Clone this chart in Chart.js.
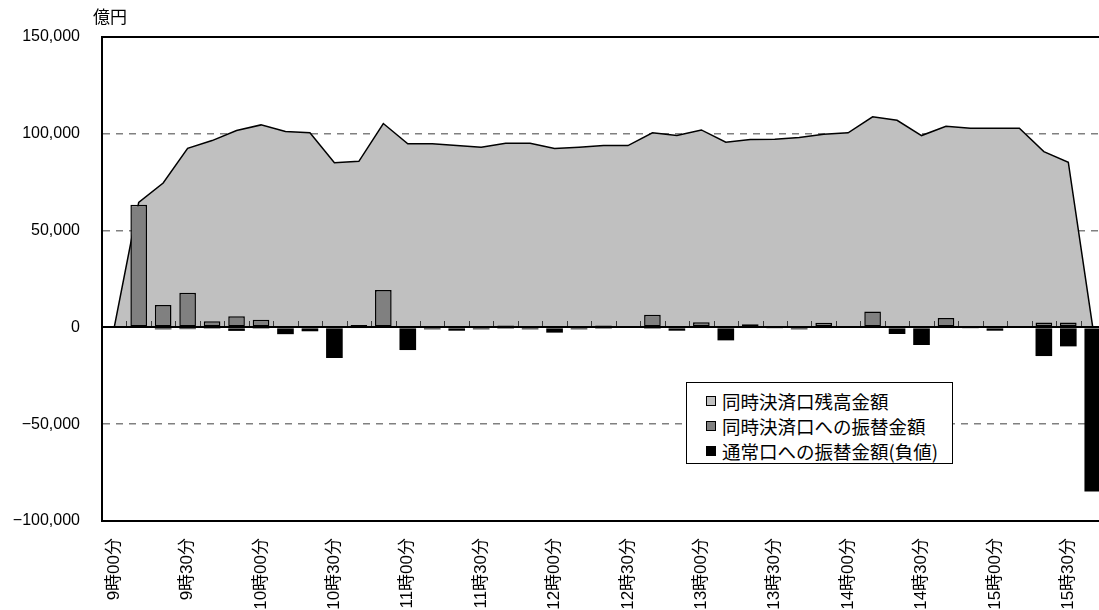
<!DOCTYPE html>
<html lang="ja">
<head>
<meta charset="utf-8">
<script src="https://cdn.jsdelivr.net/npm/chart.js@4.4.1/dist/chart.umd.min.js"></script>
<style>
  html, body { margin: 0; padding: 0; background: #fff; overflow: hidden; width: 1099px; height: 610px; }
  #wrap { position: absolute; left: 0; top: 0; width: 1105px; height: 610px; }
  #unit { position: absolute; left: 93px; top: 7px; font-family: 'Noto Sans CJK JP', sans-serif; font-size: 17px; line-height: 17px; color: #000; }
  #legend { position: absolute; left: 686px; top: 382px; width: 267px; height: 82px; box-sizing: border-box; border: 1px solid #000; background: #fff; }
  .item { position: absolute; left: 19px; height: 24px; display: flex; align-items: center; white-space: nowrap;
          font-family: 'Noto Sans CJK JP', sans-serif; font-size: 18.5px; line-height: 24px; color: #000; }
  .swatch { width: 8px; height: 8px; border: 1px solid #000; margin-right: 6px; flex: none; }
</style>
</head>
<body>
<div id="wrap">
  <canvas id="c" width="1105" height="610"></canvas>
  <div id="unit">億円</div>
  <div id="legend"></div>
</div>
<script>
// 10-minute time slots of the settlement day
const timeLabels = [
  '9時00分','9時10分','9時20分','9時30分','9時40分','9時50分',
  '10時00分','10時10分','10時20分','10時30分','10時40分','10時50分',
  '11時00分','11時10分','11時20分','11時30分','11時40分','11時50分',
  '12時00分','12時10分','12時20分','12時30分','12時40分','12時50分',
  '13時00分','13時10分','13時20分','13時30分','13時40分','13時50分',
  '14時00分','14時10分','14時20分','14時30分','14時40分','14時50分',
  '15時00分','15時10分','15時20分','15時30分','15時40分'
];

// 同時決済口残高金額 (億円)
const balance = [
  0, 64500, 74600, 92500, 96500, 101700,
  104600, 101200, 100500, 85100, 85800, 105300,
  94800, 94800, 93900, 93100, 95100, 95100,
  92400, 93100, 93900, 93900, 100500, 99100,
  102000, 95700, 97000, 97200, 98100, 99800,
  100500, 108800, 107000, 99100, 103900, 102900,
  102900, 102900, 90800, 85300, 0
];

// 同時決済口への振替金額 (億円)
const transferIn = [
  0, 63400, 11600, 17900, 3200, 5800,
  4000, 0, 0, 0, 1200, 19300,
  0, 0, 0, 0, 1000, 0,
  0, 0, 1000, 0, 6500, 0,
  2600, 0, 1600, 0, 600, 2400,
  0, 8200, 0, 0, 4800, 0,
  0, 0, 2500, 2500, 0
];

// 通常口への振替金額 (負値, 億円)
const transferOut = [
  0, 0, -1000, -900, -700, -1800,
  -700, -3500, -2000, -15800, -500, 0,
  -11700, -1000, -1700, -1000, -300, -1000,
  -2700, -1000, -300, 0, -300, -1700,
  -500, -6700, -500, -600, -1000, -500,
  0, -500, -3400, -9100, -500, -600,
  -1700, 0, -14800, -9800, -84800
];

const seriesNames = ['同時決済口残高金額', '同時決済口への振替金額', '通常口への振替金額(負値)'];
const seriesColors = ['#c0c0c0', '#808080', '#000000'];

// value axis range
const yMin = -100000, yMax = 150000, yStep = 50000;

const fmtYen = v => (v < 0 ? '\u2212' : '') + Math.abs(v).toLocaleString('en-US');
const isFrame = v => v === yMin || v === yMax || v === 0;

// zero line with short category ticks pointing upward
const zeroAxis = {
  id: 'zeroAxis',
  afterDatasetsDraw(chart) {
    const { ctx, chartArea, scales: { x, y } } = chart;
    const y0 = Math.round(y.getPixelForValue(0));
    ctx.save();
    ctx.strokeStyle = '#3a3a3a';
    ctx.lineWidth = 1;
    ctx.beginPath();
    for (let i = 0; i < timeLabels.length - 1; i++) {
      const xm = Math.round((x.getPixelForValue(i) + x.getPixelForValue(i + 1)) / 2) + 0.5;
      ctx.moveTo(xm, y0);
      ctx.lineTo(xm, y0 - 6);
    }
    ctx.stroke();
    ctx.strokeStyle = '#000';
    ctx.lineWidth = 2;
    ctx.beginPath();
    ctx.moveTo(chartArea.left, y0);
    ctx.lineTo(chartArea.right, y0);
    ctx.stroke();
    ctx.restore();
  }
};

const tickFont = "'Liberation Sans', 'Noto Sans CJK JP', sans-serif";

new Chart(document.getElementById('c'), {
  type: 'bar',
  data: {
    labels: timeLabels,
    datasets: [
      {
        type: 'line', label: seriesNames[0], data: balance,
        fill: 'origin', backgroundColor: seriesColors[0],
        borderColor: '#000', borderWidth: 1.5, pointRadius: 0, tension: 0, order: 3
      },
      {
        type: 'bar', label: seriesNames[1], data: transferIn,
        backgroundColor: seriesColors[1], borderColor: '#000', borderWidth: 1.5, borderSkipped: false,
        grouped: false, categoryPercentage: 1, barPercentage: 0.68, order: 2
      },
      {
        type: 'bar', label: seriesNames[2], data: transferOut,
        backgroundColor: seriesColors[2], borderWidth: 0,
        grouped: false, categoryPercentage: 1, barPercentage: 0.68, order: 1
      }
    ]
  },
  options: {
    responsive: false,
    animation: false,
    devicePixelRatio: 1,
    layout: { padding: { top: 37, left: 0, right: 0, bottom: 0 } },
    plugins: { legend: { display: false }, tooltip: { enabled: false } },
    scales: {
      x: {
        offset: true,
        grid: { display: false, drawTicks: false },
        border: { display: true, color: '#000', width: 2 },
        ticks: {
          autoSkip: false, maxRotation: 90, minRotation: 90, padding: 17, color: '#000',
          font: { family: tickFont, size: 17 },
          callback: (v, i) => (i % 3 === 0 ? timeLabels[i] : '')
        },
        afterFit: s => { s.height = 89; s.paddingLeft = 0; s.paddingRight = 0; }
      },
      y: {
        min: yMin, max: yMax,
        ticks: { stepSize: yStep, padding: 22, color: '#000', font: { family: tickFont, size: 16 }, callback: v => fmtYen(v) },
        grid: {
          drawTicks: false,
          color: c => (c.tick && isFrame(c.tick.value)) ? '#000' : '#808080',
          lineWidth: c => (c.tick && isFrame(c.tick.value)) ? 2 : 1.5
        },
        border: {
          display: true, color: '#000', width: 2,
          dash: c => (c.tick && !isFrame(c.tick.value)) ? [7, 6] : []
        },
        afterFit: s => { s.width = 102; }
      }
    }
  },
  plugins: [zeroAxis]
});

// legend box built from the series names and colours
const legend = document.getElementById('legend');
seriesNames.forEach((name, i) => {
  const row = document.createElement('div');
  row.className = 'item';
  row.style.top = (6 + i * 25) + 'px';
  const sw = document.createElement('span');
  sw.className = 'swatch';
  sw.style.background = seriesColors[i];
  const tx = document.createElement('span');
  tx.textContent = name;
  row.appendChild(sw);
  row.appendChild(tx);
  legend.appendChild(row);
});
</script>
</body>
</html>
